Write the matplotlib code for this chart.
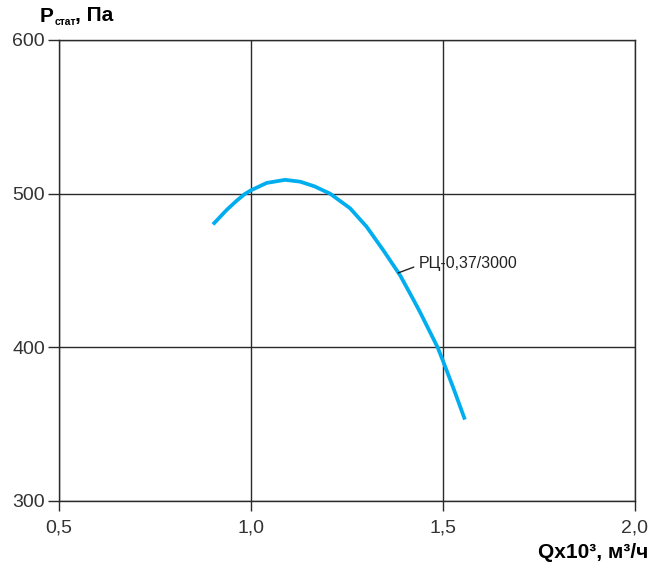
import matplotlib.pyplot as plt

plt.rcParams['font.family'] = ['Liberation Sans', 'DejaVu Sans']

# fan curve (Q x10^3 m3/h, Pstat Pa)
q = [0.901, 0.937, 0.963, 0.984, 1.000, 1.041, 1.089, 1.128, 1.165, 1.206,
     1.258, 1.301, 1.345, 1.388, 1.423, 1.440, 1.486, 1.501, 1.527, 1.557]
p = [480, 489.5, 495.5, 499.8, 502.2, 507, 509, 507.8, 504.8, 500,
     490.5, 478.5, 463, 447, 431, 423, 400, 390.5, 373.5, 353]
curve_name = "РЦ-0,37/3000"

x_ticks = [0.5, 1.0, 1.5, 2.0]
x_labels = ["0,5", "1,0", "1,5", "2,0"]
y_ticks = [300, 400, 500, 600]

fig = plt.figure(figsize=(6.51, 5.70), dpi=100)
ax = fig.add_axes([59 / 651, 1 - 501 / 570, 576 / 651, 461 / 570])

ax.plot(q, p, color="#00aeef", lw=2.7, solid_capstyle="butt",
        solid_joinstyle="round", zorder=3)

ax.set_xlim(0.5, 2.0)
ax.set_ylim(300, 600)
ax.set_xticks(x_ticks)
ax.set_xticklabels(x_labels)
ax.set_yticks(y_ticks)
ax.grid(True, color="#2a2a2a", lw=1.0)
for s in ax.spines.values():
    s.set_color("#2a2a2a")
    s.set_linewidth(1.0)
ax.tick_params(width=1.0, color="#2a2a2a", labelsize=14, labelcolor="#333333")
ax.tick_params(axis="y", length=8, pad=2)
ax.tick_params(axis="x", length=7, pad=6)

ax.annotate(curve_name, xy=(1.383, 448.4), xytext=(1.438, 454.5),
            fontsize=11.5, color="#222222", va="center", ha="left",
            arrowprops=dict(arrowstyle="-", color="#222222", lw=1.0,
                            shrinkA=2, shrinkB=0, relpos=(0, 0.4)))

# axis title with subscript
fig.text(40 / 651, 1 - 16 / 570, "P", fontsize=15, fontweight="bold",
         va="center", ha="left")
fig.text(55 / 651, 1 - 22 / 570, "стат", fontsize=7.5, fontweight="bold",
         va="center", ha="left")
fig.text(75 / 651, 1 - 16 / 570, ", Па", fontsize=15, fontweight="bold",
         va="center", ha="left")

fig.text(648 / 651, 1 - 553 / 570, "Qx10³, м³/ч", fontsize=15,
         fontweight="bold", va="center", ha="right")

fig.savefig("out.png", dpi=100)
